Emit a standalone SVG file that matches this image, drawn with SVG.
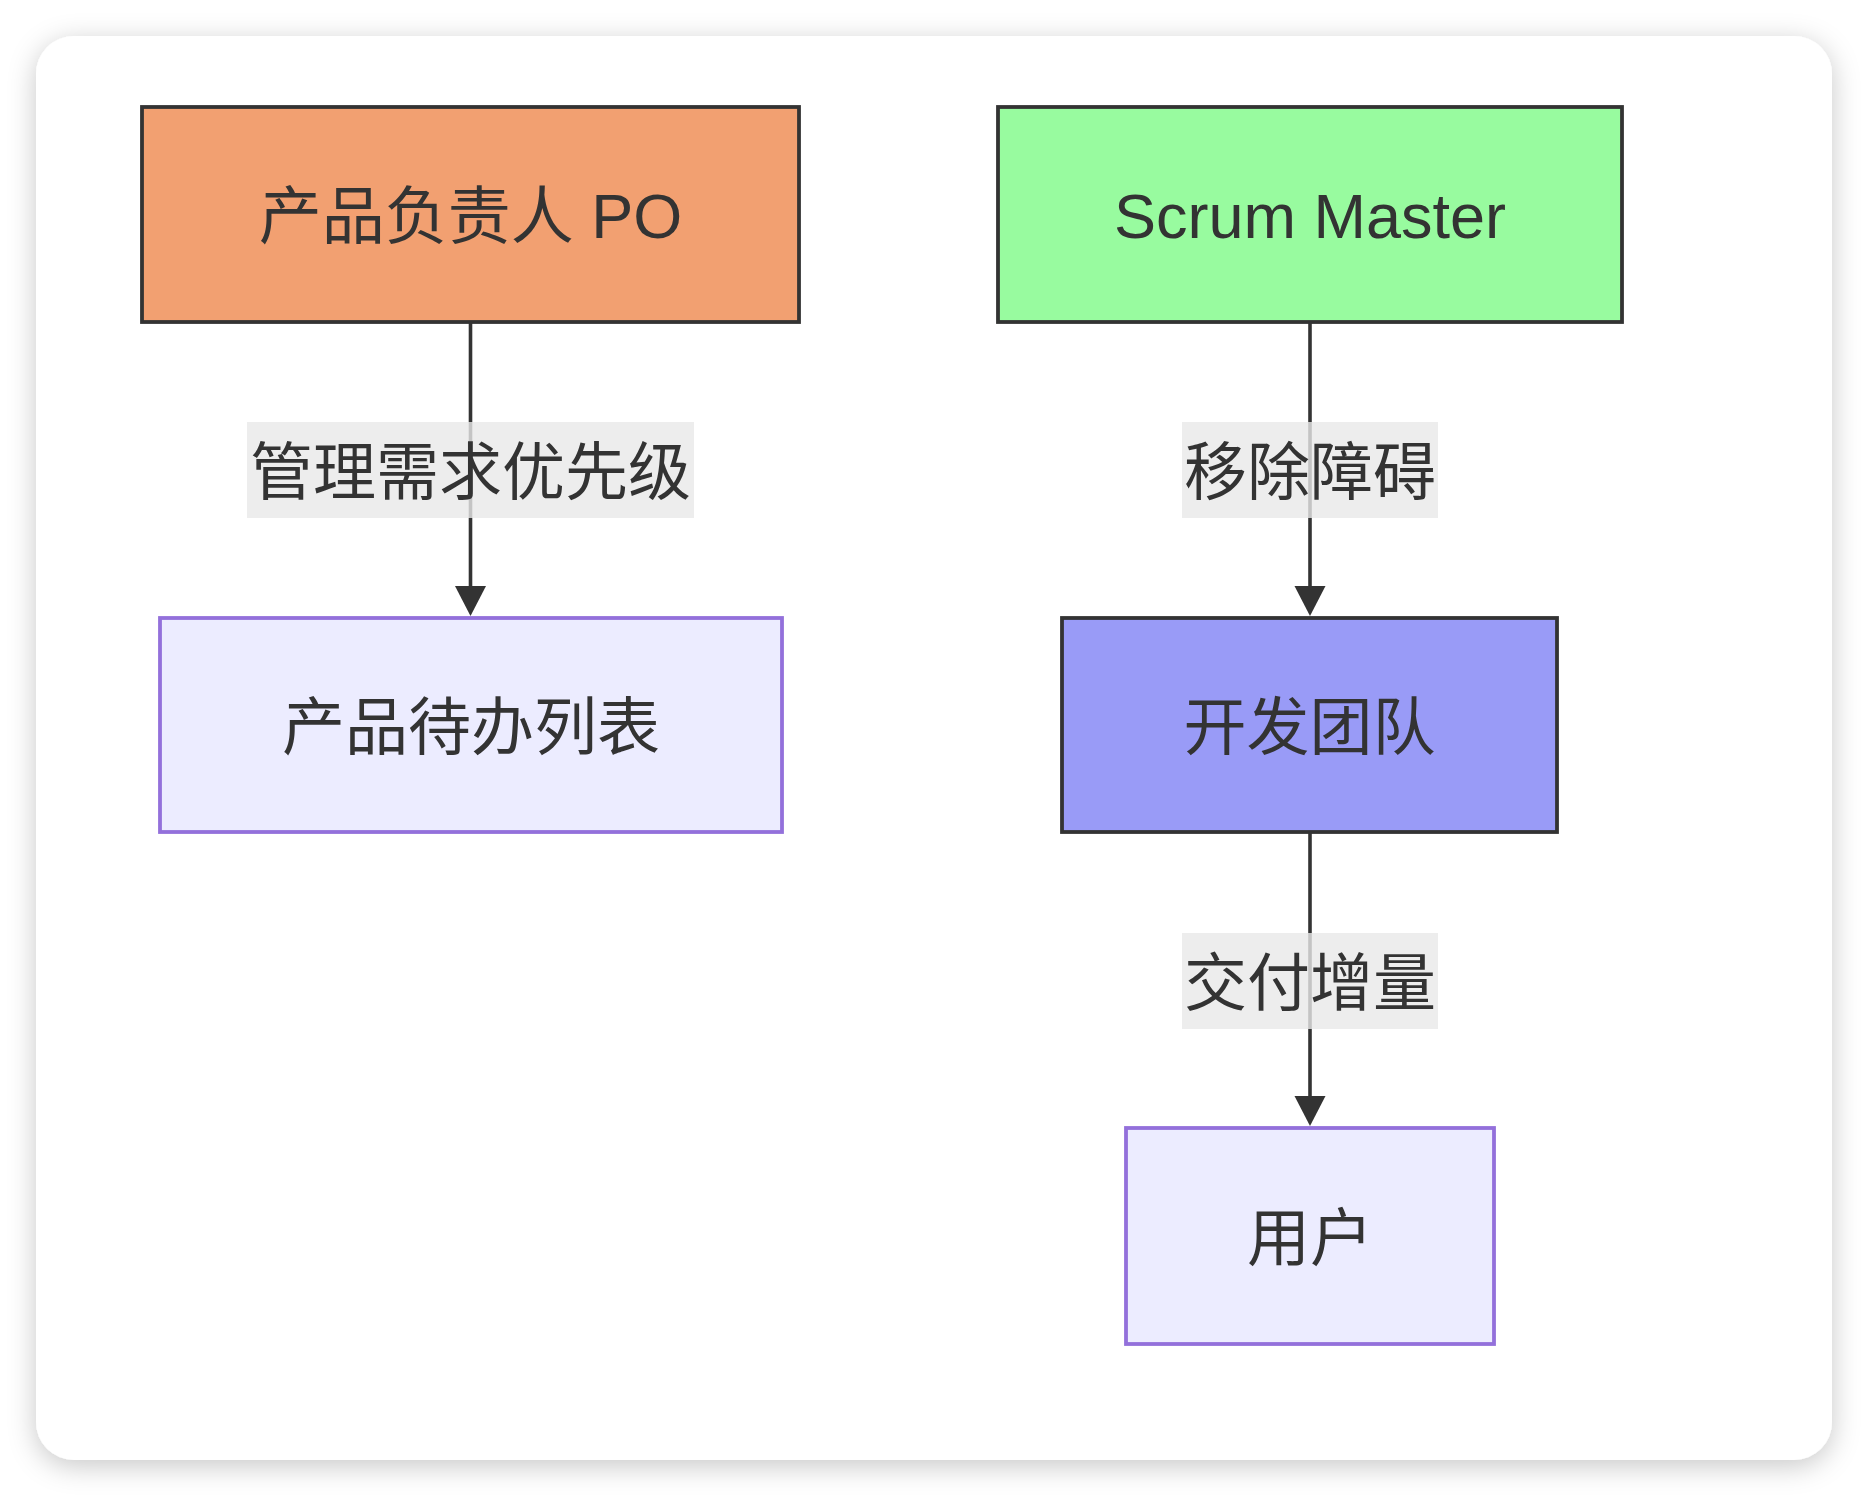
<svg xmlns="http://www.w3.org/2000/svg" width="1868" height="1496" viewBox="0 0 1868 1496">
<style>
.t{font-family:"Liberation Sans","Noto Sans CJK SC",sans-serif;font-size:63px;fill:#333;text-anchor:middle}
.edge{stroke:#333;stroke-width:3.6;fill:none}
.lbl{fill:#e8e8e8;fill-opacity:0.8}
.def{fill:#ececff;stroke:#9370db;stroke-width:3.8}
.dark{stroke:#333;stroke-width:3.8}
</style>
<defs>
<filter id="sh" x="-10%" y="-10%" width="120%" height="120%">
<feDropShadow dx="0" dy="6" stdDeviation="14" flood-color="#000" flood-opacity="0.22"/>
</filter>
</defs>
<rect width="1868" height="1496" fill="#ffffff"/>
<rect x="36" y="36" width="1796" height="1424" rx="38" ry="38" fill="#ffffff" filter="url(#sh)"/>
<g id="connectors">
<line class="edge" x1="470.5" y1="323" x2="470.5" y2="592"/>
<path d="M455,586 L486,586 L470.5,616 z" fill="#333"/>
<line class="edge" x1="1310" y1="323" x2="1310" y2="592"/>
<path d="M1294.5,586 L1325.5,586 L1310,616 z" fill="#333"/>
<line class="edge" x1="1310" y1="833" x2="1310" y2="1102"/>
<path d="M1294.5,1096 L1325.5,1096 L1310,1126 z" fill="#333"/>
</g>
<g id="edge-labels">
<g id="label-prioritize">
<rect class="lbl" x="247" y="422" width="447" height="96"/>
<text class="t" x="470.5" y="494">管理需求优先级</text>
</g>
<g id="label-remove">
<rect class="lbl" x="1182" y="422" width="256" height="96"/>
<text class="t" x="1310" y="494">移除障碍</text>
</g>
<g id="label-deliver">
<rect class="lbl" x="1182" y="933" width="256" height="96"/>
<text class="t" x="1310" y="1005">交付增量</text>
</g>
</g>
<g id="node-po">
<rect class="dark" x="142" y="107" width="657" height="215" fill="#f2a071"/>
<text class="t" x="470.5" y="238">产品负责人 PO</text>
</g>
<g id="node-sm">
<rect class="dark" x="998" y="107" width="624" height="215" fill="#98fb9f"/>
<text class="t" x="1310" y="238">Scrum Master</text>
</g>
<g id="node-backlog">
<rect class="def" x="160" y="618" width="622" height="214"/>
<text class="t" x="471" y="749">产品待办列表</text>
</g>
<g id="node-dev">
<rect class="dark" x="1062" y="618" width="495" height="214" fill="#999bf7"/>
<text class="t" x="1309.5" y="749">开发团队</text>
</g>
<g id="node-user">
<rect class="def" x="1126" y="1128" width="368" height="216"/>
<text class="t" x="1310" y="1260">用户</text>
</g>
</svg>
